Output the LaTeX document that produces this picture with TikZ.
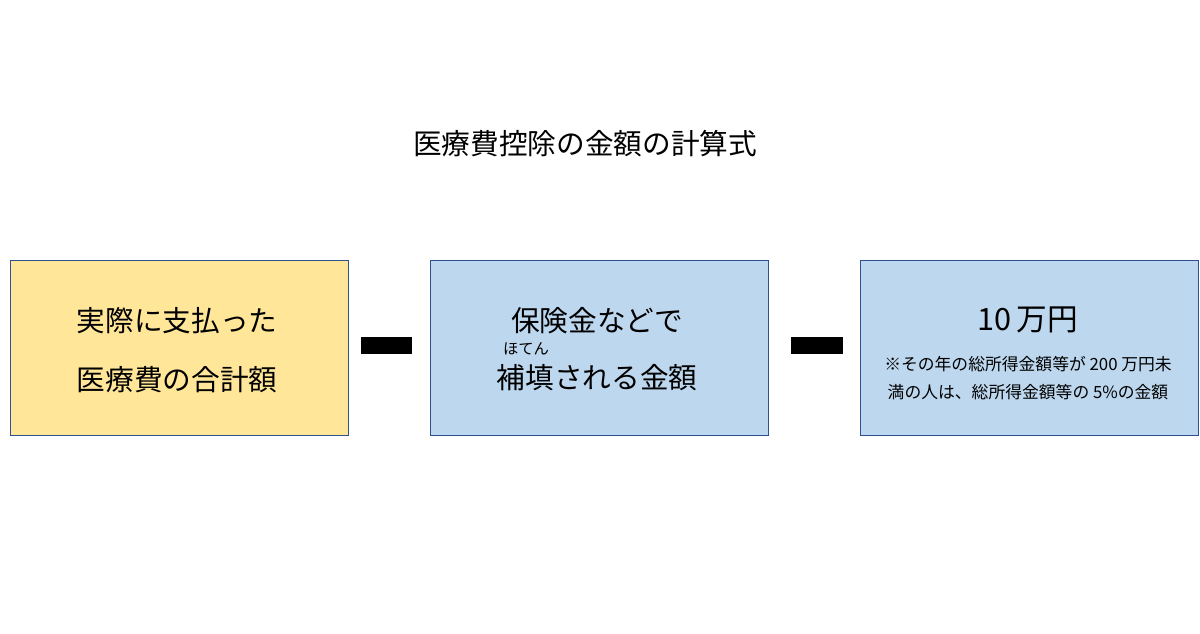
\documentclass[tikz,border=0pt]{standalone}
\usepackage{fontspec}
\setmainfont{Noto Sans CJK JP}
\definecolor{boxyellow}{HTML}{FFE699}
\definecolor{boxblue}{HTML}{BDD7EE}
\definecolor{boxline}{HTML}{2F528F}
\tikzset{
	termbox/.style={draw=boxline,line width=1pt,minimum width=253.5pt,minimum height=131.25pt,inner sep=0pt,anchor=north west},
	bigtext/.style={font=\fontsize{21.5pt}{26pt}\selectfont,inner sep=0pt},
	smalltext/.style={font=\fontsize{12.6pt}{15pt}\selectfont,inner sep=0pt}
}
\begin{document}
\begin{tikzpicture}[x=0.75pt,y=-0.75pt]
		\useasboundingbox (0,0) rectangle (1200,634);
		\node[bigtext] (title) at (585,144) {医療費控除の金額の計算式};
		\node[termbox,fill=boxyellow] (paid) at (10,260) {};
		\node[termbox,fill=boxblue] (insurance) at (430,260) {};
		\node[termbox,fill=boxblue] (deduct) at (860,260) {};
		\node[bigtext] (paid1) at (177,321) {実際に支払った};
		\node[bigtext] (paid2) at (177,380) {医療費の合計額};
		\node[bigtext] (ins1) at (597,321) {保険金などで};
		\node[font=\fontsize{11.5pt}{13pt}\selectfont,inner sep=0pt] (ruby) at (526,349) {ほてん};
		\node[bigtext] (ins2) at (597,378) {補填される金額};
		\node[font=\fontsize{23pt}{28pt}\selectfont,inner sep=0pt] (amount) at (1028,320) {10\,万円};
		\node[smalltext] (note1) at (1028,364) {※その年の総所得金額等が 200 万円未};
		\node[smalltext] (note2) at (1028,392) {満の人は、総所得金額等の 5\%の金額};
		\fill (361,337) rectangle (412,354);
		\fill (791,337) rectangle (843,354);
	\end{tikzpicture}
\end{document}
